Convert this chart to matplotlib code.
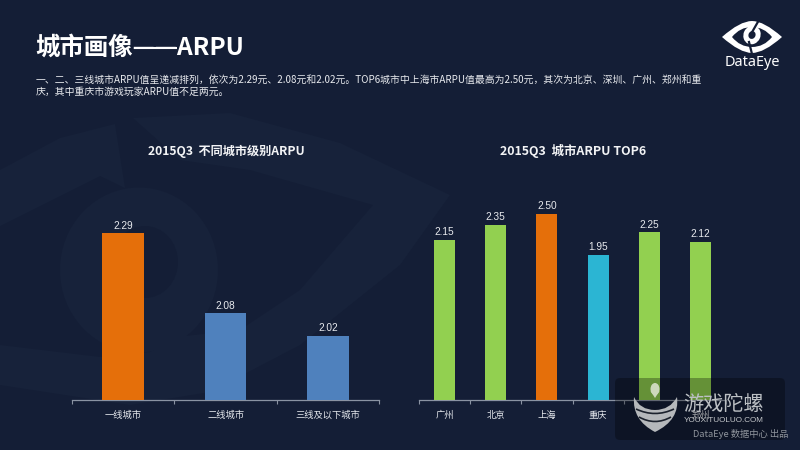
import matplotlib
matplotlib.use("Agg")
import matplotlib.pyplot as plt
from matplotlib.patches import Ellipse, PathPatch, Polygon, FancyBboxPatch
from matplotlib.path import Path

plt.rcParams['font.family'] = ['Noto Sans CJK SC', 'DejaVu Sans']

BG = '#141e36'
tier_labels = ['一线城市', '二线城市', '三线及以下城市']
tier_values = [2.29, 2.08, 2.02]
tier_colors = ['#e56f0a', '#4f81bd', '#4f81bd']
city_labels = ['广州', '北京', '上海', '重庆', '深圳', '郑州']
city_values = [2.15, 2.35, 2.50, 1.95, 2.25, 2.12]
city_colors = ['#92d050', '#92d050', '#e56f0a', '#2bb5d3', '#92d050', '#92d050']

fig = plt.figure(figsize=(8, 4.5), dpi=100, facecolor=BG)
W, H = 800, 450

def px_axes(l, t, r, b, **kw):
    return fig.add_axes([l / W, 1 - b / H, (r - l) / W, (b - t) / H], **kw)

# background watermark eye
bg = px_axes(0, 0, W, H, zorder=0)
bg.set_xlim(0, W); bg.set_ylim(H, 0); bg.axis('off')
light = '#17223a'
bg.add_patch(Polygon([(0, 170), (60, 138), (115, 124), (125, 188), (100, 176), (0, 226)], fc=light, ec='none'))
bg.add_patch(Polygon([(133, 118), (230, 113), (340, 143), (450, 195), (400, 265), (300, 345), (210, 392),
                      (130, 405), (0, 385), (0, 345), (100, 357), (150, 352), (176, 337), (240, 330),
                      (300, 290), (373, 205), (250, 170), (180, 160)], fc=light, ec='none'))
bg.add_patch(Ellipse((139, 270), 158, 165, fc=light, ec='none'))
bg.add_patch(Ellipse((145, 262), 66, 72, fc=BG, ec='none'))

def bar_panel(rect, labels, values, colors, bottom, top, width, title, title_x, title_size):
    ax = px_axes(*rect, zorder=2)
    ax.patch.set_alpha(0)
    x = list(range(len(values)))
    ax.bar(x, values, width=width, color=colors, zorder=3)
    ax.set_xlim(-0.5, len(values) - 0.5)
    ax.set_ylim(bottom, top)
    for s in ['top', 'left', 'right']:
        ax.spines[s].set_visible(False)
    ax.spines['bottom'].set_color('#8a93a3')
    ax.spines['bottom'].set_linewidth(0.9)
    ax.set_yticks([])
    ax.set_xticks([i - 0.5 for i in range(len(values) + 1)], minor=False)
    ax.set_xticklabels([])
    ax.tick_params(axis='x', length=3, width=0.8, color='#8a93a3', direction='out')
    for i, lab in enumerate(labels):
        ax.annotate(lab, (i, bottom), xytext=(0, -13), textcoords='offset points', ha='center', va='baseline',
                    color='#e4e7ec', fontsize=6.7)
    for i, v in enumerate(values):
        ax.annotate(f'{v:.2f}', (i, v), xytext=(0, 5.5), textcoords='offset points', ha='center', va='center',
                    color='#e8eaee', fontsize=7.3, family='Liberation Sans')
    fig.text(title_x / W, 1 - 151 / H, title, color='#f2f3f5', fontsize=title_size, fontweight='bold',
             ha='center', va='center')
    return ax

bar_panel((72, 170, 379, 400), tier_labels, tier_values, tier_colors, 1.852, 2.456, 0.405,
          '2015Q3  不同城市级别ARPU', 226, 8.75)
bar_panel((419, 170, 726, 400), city_labels, city_values, city_colors, 0, 3.087, 0.41,
          '2015Q3  城市ARPU TOP6', 573, 8.95)

# overlay
top = px_axes(0, 0, W, H, zorder=5)
top.set_xlim(0, W); top.set_ylim(H, 0); top.axis('off'); top.patch.set_alpha(0)
top.text(35, 48, '城市画像——ARPU', color='white', fontsize=17.6, fontweight='bold', va='center', ha='left')
top.plot([134, 177], [47.5, 47.5], color='white', lw=1.5, solid_capstyle='butt')
top.text(36, 80, '一、二、三线城市ARPU值呈递减排列，依次为2.29元、2.08元和2.02元。TOP6城市中上海市ARPU值最高为2.50元，其次为北京、深圳、广州、郑州和重',
         color='#e8eaee', fontsize=7.08, va='center', ha='left')
top.text(36, 92, '庆，其中重庆市游戏玩家ARPU值不足两元。', color='#e8eaee', fontsize=7.08, va='center', ha='left')

# DataEye logo
def eye_path(x0, x1, cy, hh):
    xc = (x0 + x1) / 2
    return Path([(x0, cy), (xc - 12, cy - hh), (xc, cy - hh), (xc + 12, cy - hh), (x1, cy),
                 (xc + 12, cy + hh), (xc, cy + hh), (xc - 12, cy + hh), (x0, cy)],
                [Path.MOVETO] + [Path.CURVE3] * 7 + [Path.CLOSEPOLY])
top.add_patch(PathPatch(eye_path(722, 782, 37, 16), fc='white', ec='none'))
top.add_patch(PathPatch(eye_path(732, 772, 37, 10), fc=BG, ec='none'))
top.add_patch(Ellipse((752, 35), 17, 19, angle=25, fc='white', ec='none'))
top.add_patch(Ellipse((752, 35), 7, 8, angle=25, fc=BG, ec='none'))
top.plot([759, 751], [20, 34], color=BG, lw=1.6)
top.plot([749, 752], [42, 54], color=BG, lw=1.6)
top.text(752, 62, 'DataEye', color='white', fontsize=10.4, ha='center', va='center', family='Noto Sans')

# Youxituoluo watermark
top.add_patch(FancyBboxPatch((615, 378), 170, 62, boxstyle='round,pad=0,rounding_size=5', fc='black', ec='none', alpha=0.3))
top.add_patch(Ellipse((655, 389), 9, 12, fc='#cdd9bb', ec='none'))
top.add_patch(Polygon([(650.5, 391), (659.5, 391), (655, 398)], fc='#cdd9bb', ec='none'))
bowl = Path([(634, 397), (640, 410), (655, 410), (670, 410), (677, 397), (680, 420), (655, 432), (632, 420), (634, 397)],
            [Path.MOVETO] + [Path.CURVE3] * 7 + [Path.CLOSEPOLY])
top.add_patch(PathPatch(bowl, fc='#b5b8bb', ec='none'))
for y0, half in [(409, 19), (417, 16)]:
    stripe = Path([(655 - half, y0), (655, y0 + 9), (655 + half, y0)], [Path.MOVETO, Path.CURVE3, Path.CURVE3])
    top.add_patch(PathPatch(stripe, fc='none', ec='#1c222d', lw=1.2))
top.text(683, 404, '游戏陀螺', color='#bcc0c4', fontsize=14.5, va='center', ha='left')
top.text(684, 421, 'YOUXITUOLUO.COM', color='#c5c8cb', fontsize=5.9, va='center', ha='left', family='Liberation Sans')
top.text(788, 434, 'DataEye 数据中心 出品', color='#8f949c', fontsize=6.7, va='center', ha='right')

fig.savefig('out.png', dpi=100, facecolor=BG)
